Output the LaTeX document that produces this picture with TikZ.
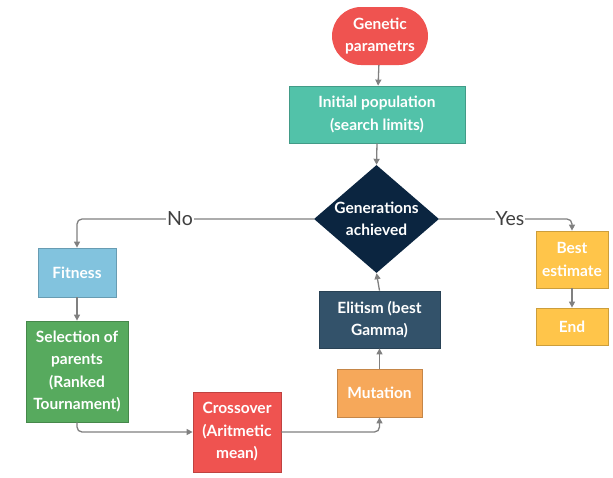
\documentclass[tikz,border=0pt]{standalone}
\usepackage{fontspec}
\setmainfont{Lato}
\usetikzlibrary{shapes.geometric,arrows.meta}
\definecolor{cRed}{HTML}{EF5350}
\definecolor{cTeal}{HTML}{52C2A9}
\definecolor{cNavy}{HTML}{0B2540}
\definecolor{cBlue}{HTML}{82C3DE}
\definecolor{cGreen}{HTML}{57AA5E}
\definecolor{cOrange}{HTML}{F6A85A}
\definecolor{cSlate}{HTML}{33526A}
\definecolor{cYellow}{HTML}{FFC54A}
\definecolor{cLine}{HTML}{808080}
\begin{document}
\begin{tikzpicture}[x=1pt,y=-1pt,
  every node/.style={font=\fontsize{15.5}{22.5}\selectfont\bfseries, text=white, align=center, inner sep=0pt},
  box/.style={rectangle, draw=#1!80!black, fill=#1, line width=0.8pt},
  conn/.style={draw=cLine, line width=1.3pt, -{Triangle[length=6pt,width=6pt]}, rounded corners=5pt},
  lbl/.style={font=\fontsize{19.5}{22}\selectfont, text=black!75, fill=white, inner sep=1pt}
]
\useasboundingbox (0,0) rectangle (613,477);
\node[rectangle, rounded corners=29pt, fill=cRed, minimum width=96pt, minimum height=58pt] (gp) at (380,36) {Genetic\\parametrs};
\node[box=cTeal, minimum width=176pt, minimum height=57pt] (ip) at (377,114.5) {Initial population\\(search limits)};
\node[diamond, fill=cNavy, minimum width=125pt, minimum height=108pt, aspect=1.16] (ga) at (376.5,219) {Generations\\achieved};
\node[box=cBlue, minimum width=78pt, minimum height=49pt] (fit) at (77,272.5) {Fitness};
\node[box=cGreen, minimum width=102pt, minimum height=101pt] (sel) at (77,371.5) {Selection of\\parents\\(Ranked\\Tournament)};
\node[box=cRed, minimum width=88pt, minimum height=80pt] (cro) at (237,432) {Crossover\\(Aritmetic\\mean)};
\node[box=cOrange, minimum width=85pt, minimum height=48pt] (mut) at (379.5,393) {Mutation};
\node[box=cSlate, minimum width=121pt, minimum height=57pt] (eli) at (379.5,319.5) {Elitism (best\\Gamma)};
\node[box=cYellow, minimum width=72pt, minimum height=57pt] (best) at (572,259.5) {Best\\estimate};
\node[box=cYellow, minimum width=72pt, minimum height=37pt] (end) at (572,326.5) {End};

\coordinate (noc) at (77,219);
\coordinate (yesc) at (572,219);
\coordinate (selb) at (77,432);
\coordinate (mutc) at (379.5,432);

\draw[conn] (gp) -- (ip);
\draw[conn] (ip.south) -- (ga.north);
\draw[conn] (ga.west) -- (noc) -- (fit.north);
\draw[conn] (fit) -- (sel);
\draw[conn] (sel.south) -- (selb) -- (cro.west);
\draw[conn] (cro.east) -- (mutc) -- (mut.south);
\draw[conn] (mut) -- (eli);
\draw[conn] (eli.north) -- (ga.south);
\draw[conn] (ga.east) -- (yesc) -- (best.north);
\draw[conn] (best) -- (end);
\node[lbl] (no) at (180,219) {No};
\node[lbl] (yes) at (510,219) {Yes};
\end{tikzpicture}
\end{document}
